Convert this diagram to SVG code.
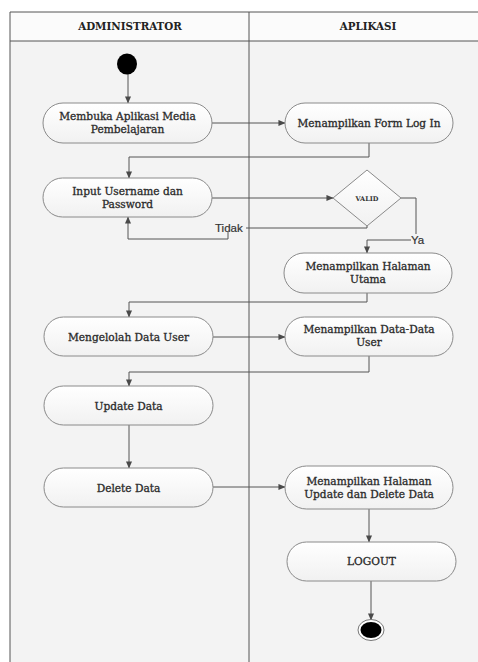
<svg xmlns="http://www.w3.org/2000/svg" width="478" height="662" viewBox="0 0 478 662">
  <defs>
    <linearGradient id="nodeFill" x1="0" y1="0" x2="0" y2="1">
      <stop offset="0" stop-color="#ffffff"/>
      <stop offset="1" stop-color="#f1f1f1"/>
    </linearGradient>
    <marker id="arrow" viewBox="0 0 8 8" refX="7.5" refY="4" markerWidth="7" markerHeight="7" markerUnits="userSpaceOnUse" orient="auto">
      <path d="M0,0.5 L8,4 L0,7.5 Z" fill="#4a4a4a"/>
    </marker>
    <style>
      .lane { fill: #f3f3f3; stroke: none; }
      .head { fill: #fbfbfb; stroke: none; }
      .frame { fill: none; stroke: #555; stroke-width: 1; }
      .node rect { fill: url(#nodeFill); stroke: #8a8a8a; stroke-width: 1; }
      .node text { font-family: "DejaVu Serif", "Liberation Serif", serif; font-size: 10.6px; fill: #2a2a2a; stroke: #2a2a2a; stroke-width: 0.3; text-anchor: middle; }
      .title { font-family: "DejaVu Serif", "Liberation Serif", serif; font-size: 10.3px; font-weight: bold; fill: #222; text-anchor: middle; }
      .edge { fill: none; stroke: #555; stroke-width: 1; marker-end: url(#arrow); }
      .plain { fill: none; stroke: #555; stroke-width: 1; }
      .guard { font-family: "Liberation Sans", "DejaVu Sans", sans-serif; font-size: 11.5px; fill: #333; stroke: #333; stroke-width: 0.2; }
      .small { font-family: "DejaVu Serif", "Liberation Serif", serif; font-size: 6.5px; font-weight: bold; fill: #333; text-anchor: middle; }
    </style>
  </defs>

  <!-- swimlane background -->
  <rect x="0" y="0" width="478" height="662" fill="#ffffff"/>
  <rect class="lane" x="10" y="41" width="468" height="621"/>
  <rect class="head" x="10" y="12" width="468" height="29"/>
  <g id="lanes">
    <path class="frame" d="M10,662 V12 H478 M10,41 H478 M249,12 V662"/>
    <text class="title" x="130" y="30">ADMINISTRATOR</text>
    <text class="title" x="368" y="30">APLIKASI</text>
  </g>

  <!-- connectors -->
  <g id="connectors">
    <path class="edge" d="M128,74 V103"/>
    <path class="edge" d="M212,123 H285"/>
    <path class="edge" d="M369,143 V157 H129 V178"/>
    <path class="edge" d="M212,198 H333"/>
    <path class="plain" d="M367,226 V228 H246"/>
    <path class="edge" d="M228,232 V239 H128 V217"/>
    <path class="plain" d="M401,198 H416 V234"/>
    <path class="edge" d="M411,240 H367 V253"/>
    <path class="edge" d="M367,293 V302 H129 V317"/>
    <path class="edge" d="M213,337 H285"/>
    <path class="edge" d="M369,356 V372 H129 V386"/>
    <path class="edge" d="M129,425 V468"/>
    <path class="edge" d="M213,487 H285"/>
    <path class="edge" d="M369,509 V542"/>
    <path class="edge" d="M371,581 V620"/>
    <text class="guard" x="215" y="232">Tidak</text>
    <text class="guard" x="411" y="244">Ya</text>
  </g>

  <!-- initial state -->
  <g id="start">
    <ellipse cx="127" cy="64" rx="10" ry="10.5" fill="#000"/>
  </g>

  <!-- actions: ADMINISTRATOR -->
  <g id="membuka" class="node">
    <rect x="43" y="103" width="169" height="40" rx="20" ry="20"/>
    <text x="127.5" y="120">Membuka Aplikasi Media</text>
    <text x="127.5" y="133">Pembelajaran</text>
  </g>
  <g id="input" class="node">
    <rect x="43" y="178" width="169" height="39" rx="19.5" ry="19.5"/>
    <text x="127.5" y="195">Input Username dan</text>
    <text x="127.5" y="208">Password</text>
  </g>
  <g id="mengelolah" class="node">
    <rect x="44" y="317" width="169" height="39" rx="19.5" ry="19.5"/>
    <text x="128.5" y="340.5">Mengelolah Data User</text>
  </g>
  <g id="update" class="node">
    <rect x="44" y="386" width="169" height="39" rx="19.5" ry="19.5"/>
    <text x="128.5" y="409.5">Update Data</text>
  </g>
  <g id="delete" class="node">
    <rect x="44" y="468" width="169" height="39" rx="19.5" ry="19.5"/>
    <text x="128.5" y="491.5">Delete Data</text>
  </g>

  <!-- actions: APLIKASI -->
  <g id="formlogin" class="node">
    <rect x="285" y="103" width="168" height="40" rx="20" ry="20"/>
    <text x="369" y="127">Menampilkan Form Log In</text>
  </g>
  <g id="valid">
    <polygon points="367,170 401,198 367,226 333,198" fill="url(#nodeFill)" stroke="#8a8a8a" stroke-width="1"/>
    <text class="small" x="367" y="200.5">VALID</text>
  </g>
  <g id="halamanutama" class="node">
    <rect x="284" y="253" width="168" height="40" rx="20" ry="20"/>
    <text x="368" y="270">Menampilkan Halaman</text>
    <text x="368" y="283">Utama</text>
  </g>
  <g id="datauser" class="node">
    <rect x="285" y="317" width="168" height="39" rx="19.5" ry="19.5"/>
    <text x="369" y="333">Menampilkan Data-Data</text>
    <text x="369" y="346">User</text>
  </g>
  <g id="halamanupdate" class="node">
    <rect x="285" y="466" width="168" height="43" rx="21.5" ry="21.5"/>
    <text x="369" y="485">Menampilkan Halaman</text>
    <text x="369" y="498">Update dan Delete Data</text>
  </g>
  <g id="logout" class="node">
    <rect x="287" y="542" width="169" height="39" rx="19.5" ry="19.5"/>
    <text x="371.5" y="565">LOGOUT</text>
  </g>

  <!-- final state -->
  <g id="end">
    <ellipse cx="371" cy="630" rx="13" ry="10.5" fill="#fff" stroke="#777" stroke-width="1"/>
    <ellipse cx="371" cy="630" rx="10.5" ry="8" fill="#000"/>
  </g>
</svg>
